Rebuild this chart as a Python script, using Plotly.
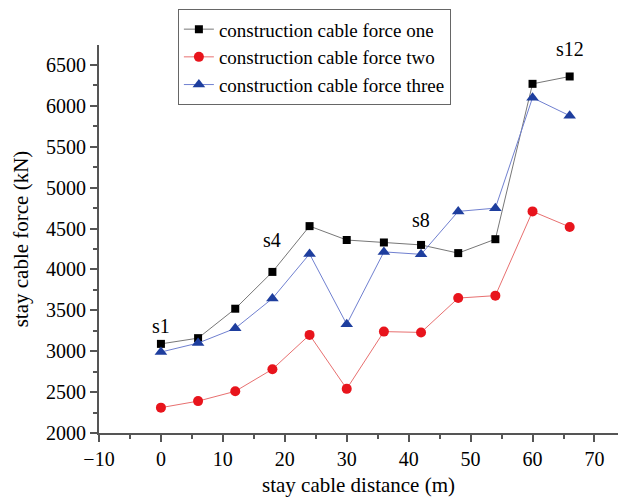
import plotly.graph_objects as go

distance = [0, 6, 12, 18, 24, 30, 36, 42, 48, 54, 60, 66]
force_one = [3090, 3160, 3520, 3970, 4530, 4360, 4330, 4300, 4200, 4370, 6270, 6360]
force_two = [2310, 2390, 2510, 2780, 3200, 2540, 3240, 3230, 3650, 3680, 4710, 4520]
force_three = [2990, 3100, 3280, 3645, 4190, 3330, 4215, 4185, 4710, 4750, 6100, 5880]
names = ["construction cable force one", "construction cable force two", "construction cable force three"]
labels = ["s1", "s4", "s8", "s12"]
label_x = [0, 18, 42, 66]
label_y = [3310, 4360, 4600, 6695]

FONT = "Liberation Serif, Times New Roman, serif"

fig = go.Figure()
fig.add_trace(go.Scatter(x=distance, y=force_one, name=names[0], mode="lines+markers",
                         line=dict(color="#777777", width=1),
                         marker=dict(symbol="square", size=8, color="#000000")))
fig.add_trace(go.Scatter(x=distance, y=force_two, name=names[1], mode="lines+markers",
                         line=dict(color="#e87070", width=1),
                         marker=dict(symbol="circle", size=10, color="#e8141c")))
fig.add_trace(go.Scatter(x=distance, y=force_three, name=names[2], mode="lines+markers",
                         line=dict(color="#7080d0", width=1),
                         marker=dict(symbol="triangle-up", size=11, color="#1e3e9e")))

for t, lx, ly in zip(labels, label_x, label_y):
    fig.add_annotation(x=lx, y=ly, text=t, showarrow=False,
                       font=dict(family=FONT, size=20, color="#000"))

fig.update_layout(
    width=618, height=497,
    margin=dict(l=99, r=0, t=45, b=64),
    paper_bgcolor="white", plot_bgcolor="white",
    font=dict(family=FONT, size=20, color="#000"),
    showlegend=True,
    legend=dict(x=0.152, y=1.092, xanchor="left", yanchor="top",
                bgcolor="white", bordercolor="#666666", borderwidth=1,
                font=dict(family=FONT, size=19), tracegroupgap=0,
                itemsizing="trace"),
    xaxis=dict(range=[-10, 73.8], tickvals=[-10, 0, 10, 20, 30, 40, 50, 60, 70],
               ticktext=["\u221210", "0", "10", "20", "30", "40", "50", "60", "70"],
               showgrid=False, zeroline=False, showline=True, linecolor="#555555", linewidth=2,
               ticks="outside", ticklen=7, tickwidth=2, tickcolor="#555555",
               minor=dict(dtick=5, ticks="outside", ticklen=4, tickwidth=1.5, tickcolor="#555555"),
               title=dict(text="stay cable distance (m)", standoff=8,
                          font=dict(family=FONT, size=21))),
    yaxis=dict(range=[2000, 6745], dtick=500, tick0=2000,
               showgrid=False, zeroline=False, showline=True, linecolor="#555555", linewidth=2,
               ticks="outside", ticklen=7, tickwidth=2, tickcolor="#555555",
               minor=dict(dtick=250, ticks="outside", ticklen=4, tickwidth=1.5, tickcolor="#555555"),
               title=dict(text="stay cable force (kN)", standoff=12,
                          font=dict(family=FONT, size=21))),
)

fig.write_html("out.html")
